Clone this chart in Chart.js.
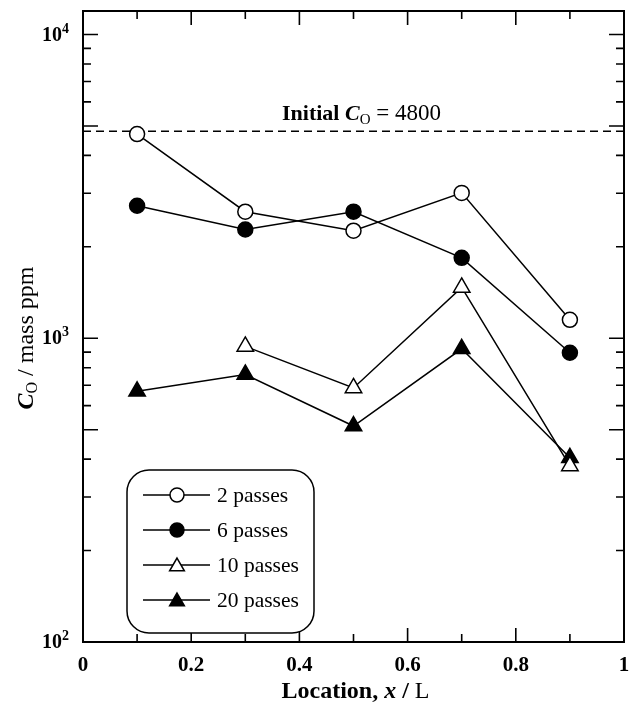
<!DOCTYPE html>
<html>
<head>
<meta charset="utf-8">
<script src="https://cdn.jsdelivr.net/npm/chart.js@4/dist/chart.umd.min.js"></script>
<style>
  html, body { margin: 0; padding: 0; background: #fff; }
  canvas { display: block; }
</style>
</head>
<body>
<canvas id="chart" width="637" height="704"></canvas>
<script>
// data
var locations = [0.1, 0.3, 0.5, 0.7, 0.9];
var passes2 = [4700, 2610, 2260, 3010, 1150];
var passes6 = [2730, 2280, 2610, 1840, 896];
var passes10 = [null, 940, 686, 1470, 380];
var passes20 = [669, 760, 514, 923, 404];
var initialCO = 4800;
var seriesLabels = ['2 passes', '6 passes', '10 passes', '20 passes'];
var xTickLabels = ['0', '0.2', '0.4', '0.6', '0.8', '1'];
var yDecades = [100, 1000, 10000];

var SERIF = '"Liberation Serif", "Times New Roman", serif';

function toPoints(ys) {
    var pts = [];
    for (var i = 0; i < locations.length; i++) {
        pts.push({ x: locations[i], y: ys[i] });
    }
    return pts;
}

function series(label, ys, style, filled) {
    return {
        label: label,
        data: toPoints(ys),
        borderColor: '#000',
        borderWidth: 1.5,
        backgroundColor: filled ? '#000' : '#fff',
        pointStyle: style,
        pointRadius: style === 'triangle' ? 9.5 : 7.5,
        pointBorderWidth: 1.5,
        pointBackgroundColor: filled ? '#000' : '#fff',
        pointBorderColor: '#000',
        tension: 0,
        spanGaps: false,
        fill: false
    };
}

// draw text made of runs with different fonts
function drawRuns(ctx, runs, x, y, align) {
    var total = 0;
    runs.forEach(function (r) {
        ctx.font = r.font;
        total += ctx.measureText(r.text).width;
    });
    var cx = align === 'center' ? x - total / 2 : (align === 'right' ? x - total : x);
    ctx.textAlign = 'left';
    ctx.textBaseline = 'alphabetic';
    runs.forEach(function (r) {
        ctx.font = r.font;
        ctx.fillText(r.text, cx, y + (r.dy || 0));
        cx += ctx.measureText(r.text).width;
    });
}

var decorPlugin = {
    id: 'decor',
    afterDraw: function (chart) {
        var ctx = chart.ctx;
        var a = chart.chartArea;
        var xs = chart.scales.x;
        var ys = chart.scales.y;
        ctx.save();
        ctx.strokeStyle = '#000';
        ctx.fillStyle = '#000';

        // frame
        ctx.lineWidth = 2;
        ctx.strokeRect(a.left, a.top, a.right - a.left, a.bottom - a.top);

        // x ticks, bottom and top, pointing in
        ctx.lineWidth = 1.6;
        for (var i = 0; i <= 10; i++) {
            var v = i / 10;
            var px = xs.getPixelForValue(v);
            var len = i % 2 === 0 ? 14 : 8;
            ctx.beginPath();
            ctx.moveTo(px, a.bottom); ctx.lineTo(px, a.bottom - len);
            ctx.moveTo(px, a.top); ctx.lineTo(px, a.top + len);
            ctx.stroke();
        }

        // y ticks, left and right
        yDecades.forEach(function (d) {
            for (var k = 1; k <= 9; k++) {
                var val = d * k;
                if (val < ys.min || val > ys.max) continue;
                var py = ys.getPixelForValue(val);
                var len = (k === 1 || k === 5) ? 15 : 8;
                ctx.beginPath();
                ctx.moveTo(a.left, py); ctx.lineTo(a.left + len, py);
                ctx.moveTo(a.right, py); ctx.lineTo(a.right - len, py);
                ctx.stroke();
            }
        });

        // y tick labels 10^n
        yDecades.forEach(function (d) {
            var py = ys.getPixelForValue(d);
            var exp = String(Math.round(Math.log10(d)));
            drawRuns(ctx, [
                { text: '10', font: 'bold 20px ' + SERIF },
                { text: exp, font: 'bold 14px ' + SERIF, dy: -8 }
            ], a.left - 14, py + 6, 'right');
        });

        // y title
        ctx.save();
        ctx.translate(26, 338);
        ctx.rotate(-Math.PI / 2);
        drawRuns(ctx, [
            { text: 'C', font: 'italic bold 24px ' + SERIF },
            { text: 'O', font: '16px ' + SERIF, dy: 4 },
            { text: ' / mass ppm', font: '24px ' + SERIF }
        ], 0, 7, 'center');
        ctx.restore();

        // x title
        drawRuns(ctx, [
            { text: 'Location, ', font: 'bold 24px ' + SERIF },
            { text: 'x', font: 'italic bold 24px ' + SERIF },
            { text: ' / ', font: 'bold 24px ' + SERIF },
            { text: 'L', font: '24px ' + SERIF }
        ], (a.left + a.right) / 2 + 2, 698, 'center');

        // initial concentration label
        var iy = ys.getPixelForValue(initialCO);
        drawRuns(ctx, [
            { text: 'Initial ', font: 'bold 22px ' + SERIF },
            { text: 'C', font: 'italic bold 22px ' + SERIF },
            { text: 'O', font: '15px ' + SERIF, dy: 4 },
            { text: ' = ' + initialCO, font: '23px ' + SERIF }
        ], 282, iy - 11, 'left');

        // legend box
        var bx = 127, by = 470, bw = 187, bh = 163, br = 22;
        ctx.lineWidth = 1.5;
        ctx.beginPath();
        ctx.moveTo(bx + br, by);
        ctx.lineTo(bx + bw - br, by);
        ctx.arcTo(bx + bw, by, bx + bw, by + br, br);
        ctx.lineTo(bx + bw, by + bh - br);
        ctx.arcTo(bx + bw, by + bh, bx + bw - br, by + bh, br);
        ctx.lineTo(bx + br, by + bh);
        ctx.arcTo(bx, by + bh, bx, by + bh - br, br);
        ctx.lineTo(bx, by + br);
        ctx.arcTo(bx, by, bx + br, by, br);
        ctx.closePath();
        ctx.fillStyle = '#fff';
        ctx.fill();
        ctx.stroke();

        for (var j = 0; j < seriesLabels.length; j++) {
            var ds = chart.data.datasets[j];
            var ly = 495 + j * 35;
            ctx.lineWidth = 1.5;
            ctx.strokeStyle = '#000';
            ctx.beginPath();
            ctx.moveTo(143, ly); ctx.lineTo(210, ly);
            ctx.stroke();
            ctx.fillStyle = ds.pointBackgroundColor;
            ctx.strokeStyle = '#000';
            Chart.helpers.drawPoint(ctx, {
                pointStyle: ds.pointStyle,
                radius: ds.pointStyle === 'triangle' ? 8.5 : 7,
                borderWidth: 1.5,
                rotation: 0
            }, 177, ly + (ds.pointStyle === 'triangle' ? 1.5 : 0));
            ctx.fillStyle = '#000';
            drawRuns(ctx, [{ text: ds.label, font: '21.5px ' + SERIF }], 217, ly + 7, 'left');
        }

        ctx.restore();
    }
};

var ctx = document.getElementById('chart').getContext('2d');
new Chart(ctx, {
    type: 'line',
    data: {
        datasets: [
            series(seriesLabels[0], passes2, 'circle', false),
            series(seriesLabels[1], passes6, 'circle', true),
            series(seriesLabels[2], passes10, 'triangle', false),
            series(seriesLabels[3], passes20, 'triangle', true),
            {
                label: 'Initial',
                data: [{ x: 0, y: initialCO }, { x: 1, y: initialCO }],
                borderColor: '#000',
                borderWidth: 1.5,
                borderDash: [8, 5],
                pointRadius: 0,
                fill: false
            }
        ]
    },
    options: {
        responsive: false,
        animation: false,
        devicePixelRatio: 1,
        layout: { padding: { top: 10, right: 13, left: 0, bottom: 0 } },
        plugins: {
            legend: { display: false },
            tooltip: { enabled: false }
        },
        scales: {
            x: {
                type: 'linear',
                min: 0,
                max: 1,
                grid: { display: false },
                border: { display: false },
                ticks: {
                    stepSize: 0.2,
                    color: '#000',
                    padding: 3,
                    font: { family: SERIF, size: 21, weight: 'bold' },
                    callback: function (v) {
                        return xTickLabels[Math.round(v * 5)];
                    }
                },
                afterFit: function (s) { s.height = 62; }
            },
            y: {
                type: 'logarithmic',
                min: 100,
                max: 11950,
                grid: { display: false },
                border: { display: false },
                ticks: { display: false },
                afterFit: function (s) { s.width = 83; }
            }
        }
    },
    plugins: [decorPlugin]
});
</script>
</body>
</html>
